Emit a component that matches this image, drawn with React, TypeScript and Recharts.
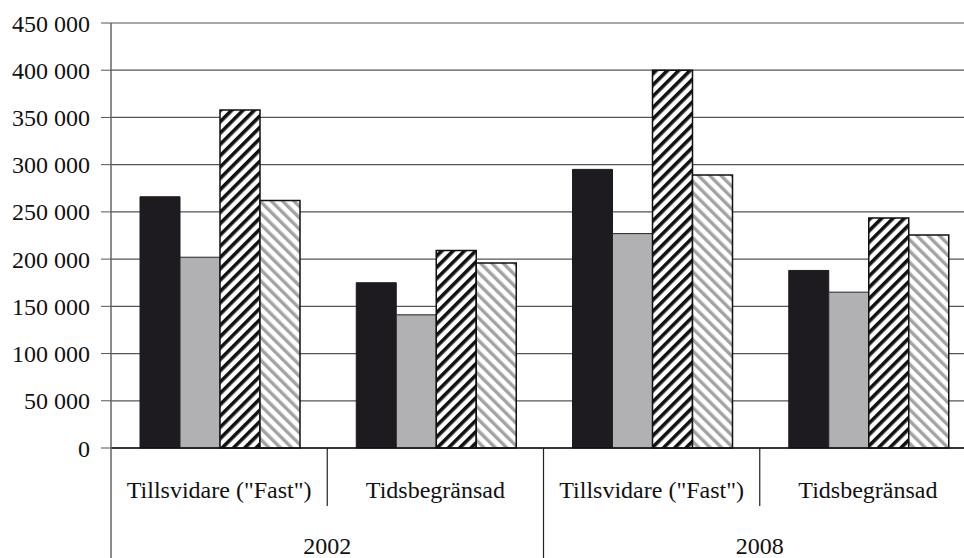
import React from "react";
import { BarChart, Bar, XAxis, YAxis, CartesianGrid } from "recharts";

const categories = ['Tillsvidare ("Fast")', "Tidsbegränsad", 'Tillsvidare ("Fast")', "Tidsbegränsad"];
const years = ["2002", "2002", "2008", "2008"];
const seriesBlack = [266000, 175000, 295000, 188000];
const seriesGray = [202000, 141000, 227000, 165000];
const seriesHatchDark = [358000, 209000, 400000, 243500];
const seriesHatchLight = [262000, 196000, 289000, 225500];
const yTicks = [0, 50000, 100000, 150000, 200000, 250000, 300000, 350000, 400000, 450000];

const data = categories.map((c, i) => ({
  id: `${years[i]}-${c}`,
  category: c,
  year: years[i],
  s1: seriesBlack[i],
  s2: seriesGray[i],
  s3: seriesHatchDark[i],
  s4: seriesHatchLight[i],
}));

const CHART_W = 976;
const CHART_H = 558;
const YAXIS_W = 111;
const XAXIS_H = 110;
const MARGIN = { top: 23, right: 0, bottom: 0, left: 0 };
const BAND = (CHART_W - YAXIS_W - MARGIN.left - MARGIN.right) / categories.length;
const FONT = "Liberation Serif";
const textStyle = { fontFamily: FONT, fontSize: 24 };

const fmt = (v: number) => v.toString().replace(/\B(?=(\d{3})+(?!\d))/g, " ");

const CategoryTick = (props: any) => {
  const { x, y, index } = props;
  const left = x - BAND / 2;
  const right = x + BAND / 2;
  const isPairEnd = index % 2 === 1;
  return (
    <g>
      {index === 0 && (
        <line x1={left} y1={y} x2={left} y2={y + XAXIS_H} stroke="#666" strokeWidth={1.5} />
      )}
      <line
        x1={right}
        y1={y}
        x2={right}
        y2={isPairEnd ? y + XAXIS_H : y + 58}
        stroke="#222"
        strokeWidth={1.2}
      />
      <text x={x} y={y + 50} textAnchor="middle" style={textStyle} fill="#111">
        {categories[index]}
      </text>
      {index % 2 === 0 && (
        <text x={right} y={y + 106} textAnchor="middle" style={textStyle} fill="#111">
          {years[index]}
        </text>
      )}
    </g>
  );
};

const YTick = (props: any) => {
  const { x, y, payload } = props;
  return (
    <text x={x} y={y} dy="0.355em" textAnchor="end" style={textStyle} fill="#111">
      {fmt(payload.value)}
    </text>
  );
};

export default function App() {
  return (
    <div
      style={{
        position: "absolute",
        left: 0,
        top: 0,
        width: 964,
        height: 558,
        overflow: "hidden",
        background: "#fff",
      }}
    >
      <BarChart
        width={CHART_W}
        height={CHART_H}
        data={data}
        margin={MARGIN}
        barGap={0}
        barCategoryGap={29}
      >
        <defs>
          <pattern id="hatchDark" patternUnits="userSpaceOnUse" width="8" height="8" patternTransform="rotate(45)">
            <rect x="0" y="0" width="8" height="8" fill="#fff" />
            <rect x="0" y="0" width="3.6" height="8" fill="#111" />
          </pattern>
          <pattern id="hatchLight" patternUnits="userSpaceOnUse" width="8" height="8" patternTransform="rotate(-45)">
            <rect x="0" y="0" width="8" height="8" fill="#fff" />
            <rect x="0" y="0" width="3.4" height="8" fill="#a3a3a3" />
          </pattern>
        </defs>
        <CartesianGrid vertical={false} stroke="#555" strokeWidth={1.2} />
        <XAxis
          dataKey="id"
          height={XAXIS_H}
          tickLine={false}
          tickSize={0}
          tickMargin={0}
          interval={0}
          axisLine={{ stroke: "#111", strokeWidth: 1.5 }}
          tick={<CategoryTick />}
        />
        <YAxis
          width={YAXIS_W}
          domain={[0, 450000]}
          ticks={yTicks}
          interval={0}
          tickSize={10}
          tickMargin={11}
          tickLine={{ stroke: "#555" }}
          axisLine={{ stroke: "#666", strokeWidth: 1.5 }}
          tick={<YTick />}
        />
        <Bar dataKey="s1" fill="#1d1b20" stroke="#1d1b20" strokeWidth={1} isAnimationActive={false} />
        <Bar dataKey="s2" fill="#b1b1b3" stroke="#222" strokeWidth={1} isAnimationActive={false} />
        <Bar dataKey="s3" fill="url(#hatchDark)" stroke="#111" strokeWidth={1.5} isAnimationActive={false} />
        <Bar dataKey="s4" fill="url(#hatchLight)" stroke="#111" strokeWidth={1.5} isAnimationActive={false} />
      </BarChart>
    </div>
  );
}
